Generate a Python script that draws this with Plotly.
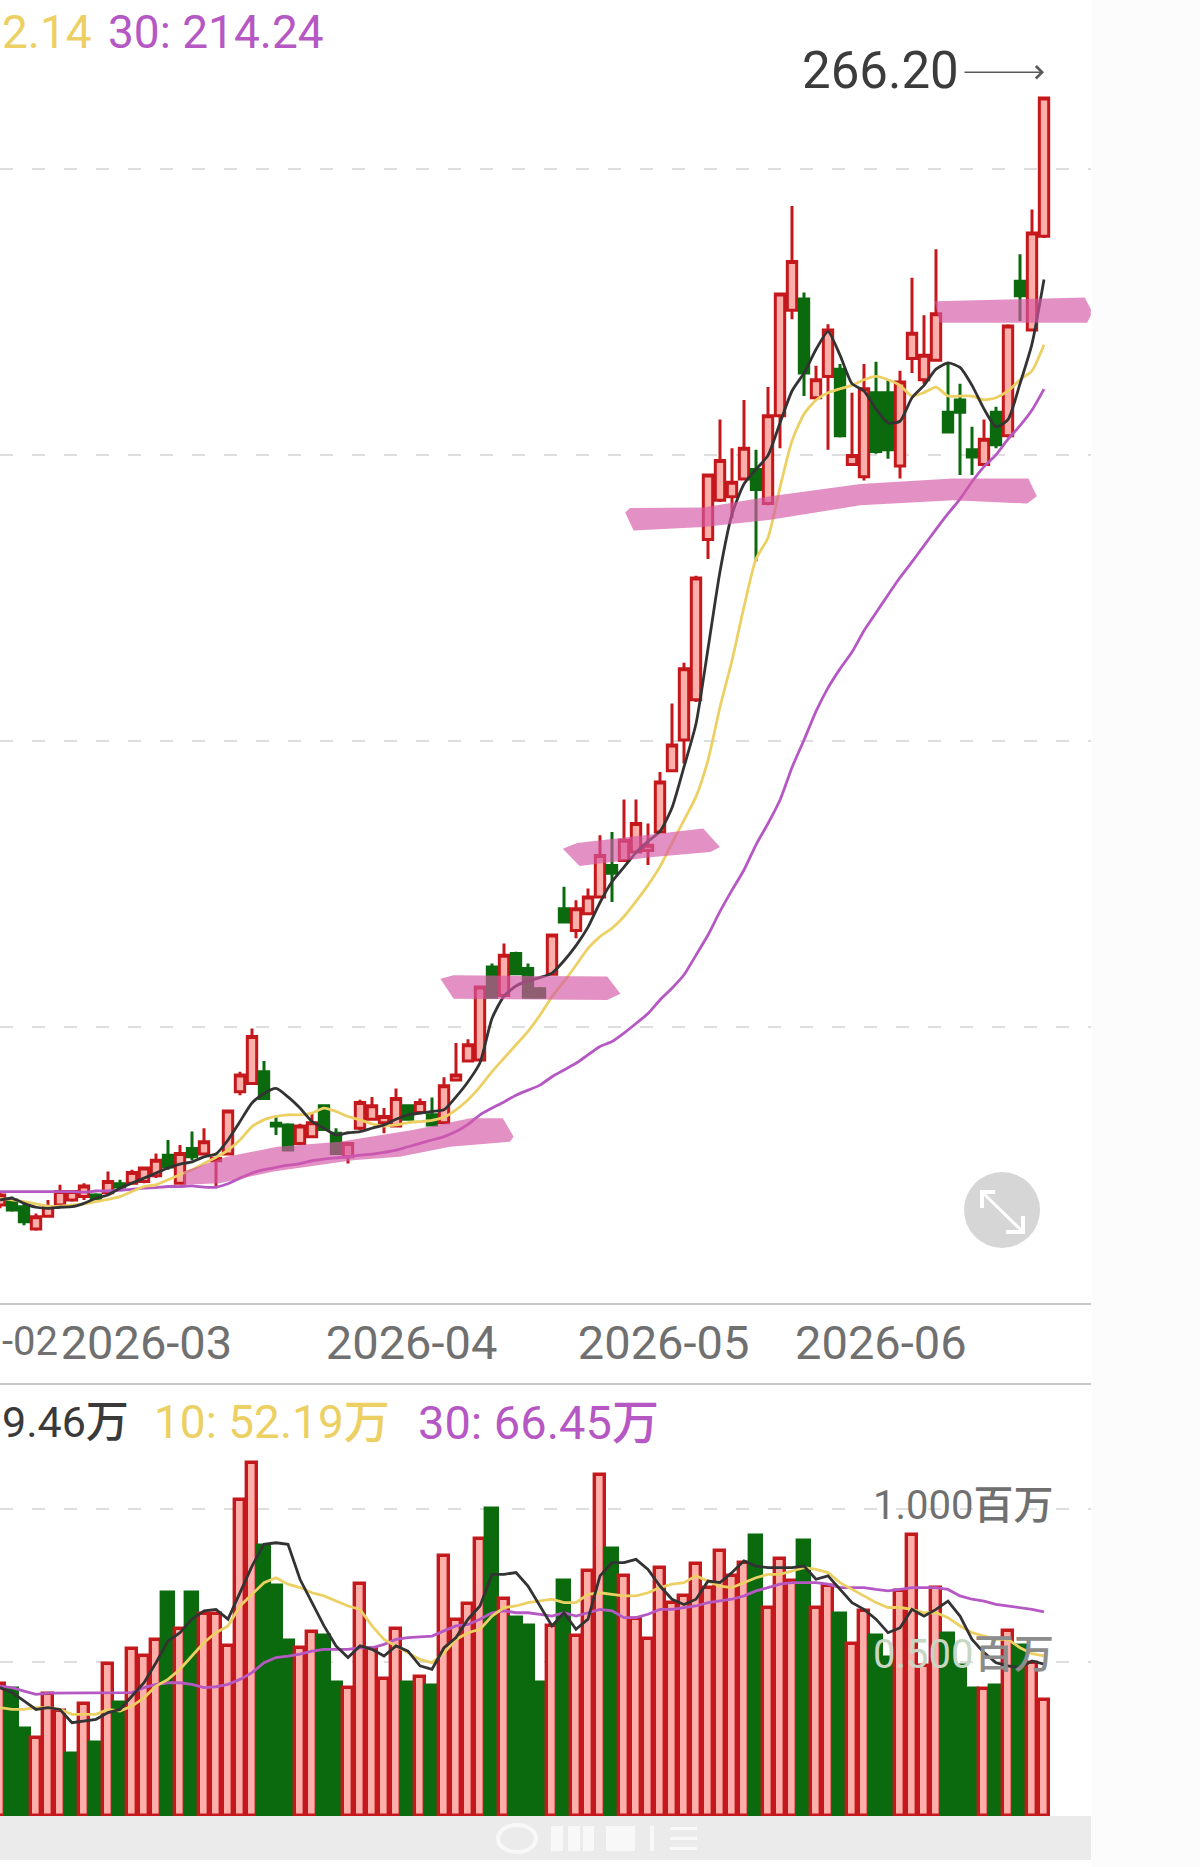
import plotly.graph_objects as go

# Daily candles, in yuan
opens = [68.6,69.5,68.3,64.3,66.6,68.6,69.5,70.1,70.4,70.8,
         72.4,72.5,72.8,73.8,77.5,72.5,78.7,77.7,76.5,77.7,
         88.8,90.3,92.4,83.2,82.9,79.6,80.8,86.3,81.4,77.2,
         82.3,83.9,83.3,82.7,86.3,85.1,84.7,83.3,90.9,94.3,
         94.5,111.1,106.0,113.5,110.8,107.2,109.8,121.5,117.6,120.6,
         123.6,129.2,130.1,131.6,131.9,135.2,146.1,151.6,158.8,187.4,
         194.4,195.0,198.2,199.9,193.8,209.5,228.3,230.3,212.7,216.5,
         217.8,200.8,198.6,213.6,213.6,200.5,219.7,215.9,219.4,210.1,
         212.3,203.4,200.8,210.1,205.9,233.5,224.8,241.5]
highs = [71.0,70.1,68.9,67.1,69.5,72.2,71.3,72.5,70.7,74.6,
         73.1,74.9,75.4,77.8,80.2,79.3,81.7,82.3,77.2,85.6,
         92.4,100.1,94.3,84.4,83.2,83.1,85.0,86.5,82.3,79.9,
         87.4,87.9,85.9,89.4,86.5,87.6,87.8,91.4,97.5,98.2,
         107.8,111.7,115.3,113.8,111.7,107.5,117.0,125.4,123.0,125.1,
         134.6,135.2,141.0,141.0,136.7,145.9,158.1,165.4,180.9,199.1,
         208.8,203.7,212.3,203.4,214.6,231.5,246.9,231.5,218.4,225.8,
         218.7,213.6,218.7,219.1,215.9,217.5,234.1,227.4,239.2,218.7,
         215.2,207.5,208.8,211.1,225.8,238.3,246.3,266.20]
lows = [68.0,67.4,65.0,64.0,66.5,68.3,69.2,69.5,69.5,70.4,
        71.6,72.2,72.5,73.4,74.9,72.2,76.6,77.5,71.6,77.5,
        88.2,90.0,87.5,81.1,78.3,79.3,80.5,82.0,77.6,76.0,
        82.0,83.7,81.4,82.5,83.7,84.8,82.6,83.1,90.7,94.1,
        94.3,105.4,105.7,109.6,105.6,105.6,109.6,119.0,116.2,120.3,
        123.3,122.7,130.0,131.4,129.3,135.0,145.9,147.4,158.4,183.9,
        194.1,191.2,197.9,183.5,193.5,203.7,226.7,213.0,212.3,203.4,
        205.6,200.6,197.9,202.7,201.8,198.3,217.1,215.2,219.1,206.3,
        198.9,198.9,200.5,203.7,205.6,226.4,224.5,241.2]
closes = [70.4,67.7,65.6,66.5,68.3,71.0,71.0,72.0,69.7,72.8,
          71.8,74.4,75.2,76.6,75.4,77.8,77.2,79.9,76.9,85.4,
          91.8,98.7,87.6,82.7,78.4,82.7,83.3,82.1,77.8,79.6,
          86.9,86.3,84.4,87.6,83.9,86.9,82.9,89.9,91.8,97.2,
          107.5,105.7,113.2,109.9,105.7,105.7,116.8,119.1,121.5,123.6,
          131.0,127.8,133.7,136.7,132.8,144.1,150.7,164.3,180.5,198.9,
          201.5,197.6,203.7,196.3,209.5,231.2,237.0,217.1,215.9,224.8,
          205.9,202.4,214.3,203.1,203.4,215.5,224.2,220.3,227.7,206.6,
          210.1,202.1,205.3,204.3,225.5,230.9,242.1,266.20]

# Price moving averages
price_ma5 = [69.5,69.8,68.9,68.2,68.0,68.2,68.3,68.9,69.8,70.4,
             71.6,72.5,73.4,74.3,75.2,75.9,76.3,77.2,77.7,80.2,
             83.5,86.8,88.5,89.4,87.9,85.9,83.5,82.3,81.1,81.5,
             81.7,82.3,82.9,83.9,84.7,85.0,85.3,85.6,87.9,90.6,
             94.0,101.9,105.9,107.7,108.6,109.2,110.0,112.2,114.9,118.2,
             122.6,126.3,128.9,131.5,133.5,135.3,139.5,146.8,154.5,167.9,
             181.7,191.9,197.3,199.9,202.4,208.2,213.9,217.1,221.3,224.5,
             220.3,215.2,213.9,210.7,208.2,208.5,212.7,214.9,217.8,218.9,
             218.1,214.9,210.7,207.5,208.8,215.2,222.3,233.8]
price_ma10 = [69.8,69.5,69.2,68.8,68.4,68.4,68.6,68.8,69.2,69.6,
              70.1,71.0,71.9,72.2,73.1,74.0,74.9,76.0,77.1,78.4,
              80.2,82.6,83.8,84.4,84.7,84.7,85.0,85.9,85.3,84.4,
              83.8,83.1,82.7,82.9,83.3,83.5,83.7,84.3,85.6,87.4,
              89.7,92.4,94.8,97.2,99.6,102.5,105.8,108.5,111.4,114.4,
              116.5,118.0,120.1,122.8,125.7,129.0,133.2,137.3,141.5,148.0,
              157.5,165.8,175.4,183.9,187.7,196.7,205.0,209.8,212.3,213.6,
              214.3,214.9,215.9,216.5,215.9,214.9,213.0,213.6,214.6,213.0,
              213.0,213.0,212.3,212.7,213.9,215.9,217.5,222.14]
price_ma30 = [71.0,71.0,71.0,71.0,71.0,71.0,71.0,70.9,71.1,71.1,
              71.2,71.4,71.6,71.7,71.9,71.9,72.0,71.8,71.8,72.4,
              73.4,74.3,74.9,75.3,75.7,76.0,76.5,76.8,77.0,77.2,
              77.5,77.7,78.0,78.4,79.0,79.6,80.2,80.8,81.7,83.0,
              84.7,85.9,87.0,88.2,89.1,90.0,91.5,92.7,93.9,95.4,
              96.9,97.8,99.3,101.0,102.8,105.2,107.3,109.7,113.2,116.8,
              121.0,124.8,128.4,132.9,136.7,140.9,146.7,151.6,156.7,160.9,
              164.3,167.3,171.1,174.3,177.5,180.6,183.4,186.3,189.2,192.0,
              194.6,197.7,200.4,202.5,205.3,207.7,210.5,214.24]

# Daily volume, in units of 10,000 shares; 'R' up day, 'G' down day
volume = [42.9,41.3,28.2,25.5,39.6,34.2,20.1,36.4,23.9,49.4,
          36.9,54.5,52.1,57.3,72.7,60.8,72.7,65.7,65.7,55.4,
          102.9,114.9,87.9,74.9,57.0,54.8,60.0,58.6,43.4,41.8,
          75.5,54.5,44.5,61.0,43.4,45.4,42.3,84.7,63.8,68.9,
          90.1,100.1,70.6,64.6,61.9,43.4,61.9,76.5,58.6,79.8,
          111.0,86.9,78.2,64.1,57.5,80.9,69.5,71.7,82.2,74.4,
          86.3,78.2,82.5,91.2,67.9,83.6,76.5,89.6,67.9,74.9,
          65.7,55.9,66.8,58.6,51.6,73.3,91.4,48.9,74.1,59.2,
          48.9,41.3,41.5,42.3,60.3,55.4,49.9,37.7]
volume_dir = list("RGGRRRGRGR"
                  "GRRRGRGRRR"
                  "RRGGGRRGGR"
                  "RRRRGRGRRR"
                  "RGRGGGRGRR"
                  "RGRRRRRRRR"
                  "RRRGRRRGRR"
                  "GRRGGRRRRG"
                  "GGRGRGRR")

# Volume moving averages
vol_ma5 = [41.8,40.2,37.5,34.7,35.3,34.7,30.4,30.9,31.5,33.7,
           34.7,39.1,43.4,49.9,57.0,59.7,64.1,66.8,67.3,64.1,
           72.7,81.4,88.5,89.0,88.5,77.1,69.5,61.9,55.4,51.6,
           55.4,54.3,52.1,55.4,53.7,48.9,47.8,54.8,58.1,64.1,
           68.4,78.7,78.7,79.3,74.9,68.4,61.9,66.2,60.8,64.1,
           78.2,82.5,82.5,83.6,80.3,74.9,70.6,68.9,70.6,76.5,
           76.0,79.3,83.1,81.4,80.9,80.9,80.9,81.4,77.1,78.2,
           73.8,69.5,67.3,64.1,59.7,61.3,67.3,65.1,67.3,70.0,
           65.1,57.5,53.2,49.9,48.9,48.3,50.5,49.46]
vol_ma10 = [35.3,34.7,34.7,35.3,35.3,34.7,33.1,33.1,33.1,34.7,
            34.2,35.8,38.5,42.3,44.5,47.8,52.1,56.5,59.7,61.9,
            68.4,72.2,76.0,77.6,75.5,74.4,72.7,71.7,70.0,68.4,
            67.3,61.9,57.5,55.4,53.2,51.0,49.9,53.2,57.5,59.7,
            60.8,65.1,67.9,68.4,69.5,70.0,70.6,69.5,69.5,72.2,
            72.7,72.2,71.7,71.7,72.7,74.4,75.5,76.0,78.2,76.5,
            74.9,74.4,76.0,77.6,78.7,78.7,79.8,80.9,80.3,79.3,
            76.0,73.8,71.7,69.5,67.9,67.9,67.3,66.2,66.2,64.6,
            61.9,59.7,58.6,57.5,57.5,54.8,52.9,52.19]
vol_ma30 = [42.3,41.8,40.7,39.6,40.0,40.0,40.0,40.0,40.0,40.0,
            40.0,40.2,41.8,42.9,43.4,43.4,42.9,41.8,42.1,42.9,
            44.5,46.7,49.9,51.6,52.1,52.7,53.7,54.3,54.3,54.3,
            54.8,54.8,55.9,57.5,58.1,58.4,58.6,60.3,61.9,62.4,
            64.1,66.2,66.8,66.2,66.2,65.7,65.1,66.2,65.1,66.2,
            67.3,66.8,64.6,64.6,65.7,67.3,67.3,67.9,68.4,69.5,
            70.0,70.6,71.7,73.3,74.4,75.5,76.0,76.0,76.0,75.5,
            74.4,74.4,74.4,73.8,73.3,73.8,74.4,74.4,74.4,73.8,
            71.7,70.6,70.0,68.9,68.4,67.9,67.3,66.45]

# Highlighter strokes marking support levels, as session index and price
stroke_a_x = [15.3,18.9,23.1,28.3,34.4,39.2,41.9,42.8,42.5,37.5,33.3,29.4,22.8,18.3,15.3]
stroke_a_y = [74.6,77.2,79.0,79.9,82.0,84.1,84.1,80.8,79.9,79.0,77.2,76.6,74.6,72.5,72.2]
stroke_b_x = [36.7,37.8,50.6,51.7,50.6,37.8]
stroke_b_y = [109.0,109.6,109.4,106.3,105.2,105.4]
stroke_c_x = [46.9,48.1,58.6,60.0,59.2,54.4,48.3]
stroke_c_y = [132.2,133.2,135.8,132.5,131.6,130.7,129.1]
stroke_d_x = [52.1,52.5,58.6,64.2,71.7,79.4,85.7,86.4,85.6,79.4,71.7,64.2,58.6,52.8]
stroke_d_y = [192.2,193.0,193.1,195.1,197.3,198.3,198.3,195.1,193.8,194.4,193.5,190.9,189.6,189.0]
stroke_e_x = [77.9,90.4,90.9,90.9,90.6,78.3]
stroke_e_y = [229.9,230.6,228.5,227.4,226.1,226.1]

# Axis ticks
price_grid = [253.5, 202.5, 151.4, 100.4]
month_positions = [12.2, 34.3, 55.3, 73.4]
month_labels = ["2026-03", "2026-04", "2026-05", "2026-06"]
volume_grid = [50, 100]

sessions = list(range(len(closes)))

RED = "#c4181c"
PINK = "#ffafaa"
GREEN = "#0b6a0e"
INK = "#333333"
YELLOW = "#ecd063"
PURPLE = "#b558c4"
GREY_TEXT = "#707070"
GRID = "#dedede"
RULE = "#c9c9c9"
TEXT_FONT = "Roboto, 'Noto Sans CJK SC', sans-serif"
TEXT_WEIGHT = 450

W, H = 1200, 1867
PANEL_RIGHT = 1091
PRICE_BOTTOM = 1304
VOL_TOP, VOL_BOTTOM = 1384, 1816

fig = go.Figure()

fig.add_trace(go.Candlestick(
    x=sessions, open=opens, high=highs, low=lows, close=closes,
    xaxis="x", yaxis="y", whiskerwidth=0,
    increasing=dict(line=dict(color=RED, width=3), fillcolor=PINK),
    decreasing=dict(line=dict(color=GREEN, width=3), fillcolor=GREEN),
    showlegend=False,
))
for series, colour in ((price_ma30, PURPLE), (price_ma10, YELLOW), (price_ma5, INK)):
    fig.add_trace(go.Scatter(
        x=sessions, y=series, mode="lines", xaxis="x", yaxis="y",
        line=dict(color=colour, width=2.8, shape="spline", smoothing=0.6),
        showlegend=False,
    ))
for sx, sy in ((stroke_a_x, stroke_a_y), (stroke_b_x, stroke_b_y), (stroke_c_x, stroke_c_y),
               (stroke_d_x, stroke_d_y), (stroke_e_x, stroke_e_y)):
    fig.add_trace(go.Scatter(
        x=sx, y=sy, mode="lines", fill="toself", xaxis="x", yaxis="y",
        line=dict(width=0, color="rgba(0,0,0,0)"),
        fillcolor="rgba(212,88,165,0.66)", showlegend=False,
    ))

fig.add_trace(go.Bar(
    x=sessions, y=volume, xaxis="x2", yaxis="y2",
    width=[0.82 if d == "R" else 1.0 for d in volume_dir],
    marker=dict(
        color=[PINK if d == "R" else GREEN for d in volume_dir],
        line=dict(color=[RED if d == "R" else GREEN for d in volume_dir], width=3.4),
    ),
    showlegend=False,
))
for series, colour in ((vol_ma30, PURPLE), (vol_ma10, YELLOW), (vol_ma5, INK)):
    fig.add_trace(go.Scatter(
        x=sessions, y=series, mode="lines", xaxis="x2", yaxis="y2",
        line=dict(color=colour, width=2.8),
        showlegend=False,
    ))


def px(x):
    return x / W


def py(y):
    return 1 - y / H


def text(x, y, label, colour, size, anchor="left"):
    """Place a label by pixel position from the top-left of the page."""
    fig.add_annotation(
        x=px(x), y=py(y), xref="paper", yref="paper", text=label, showarrow=False,
        xanchor=anchor, yanchor="middle",
        font=dict(family=TEXT_FONT, size=size, color=colour, weight=TEXT_WEIGHT),
    )


text(0, 32, "2.14", YELLOW, 46)
text(106, 32, "30: 214.24", PURPLE, 46)
text(800, 71, "266.20", "#3c3c3c", 51)
text(0, 1341, "-02", GREY_TEXT, 40)
text(0, 1422, "9.46万", "#3a3a3a", 43)
text(152, 1422, "10: 52.19万", YELLOW, 46)
text(416, 1422, "30: 66.45万", PURPLE, 47)
text(871, 1505, "1.000百万", GREY_TEXT, 40)
text(871, 1654, "0.500", "#c8d6c4", 40)
text(972, 1654, "百万", "#8c8c8c", 40)

# Callout arrow pointing at the session high
fig.add_annotation(
    x=87, y=270.8, ax=-81, ay=0, xref="x", yref="y", axref="pixel", ayref="pixel",
    text="", showarrow=True, arrowhead=4, arrowsize=1.5, arrowwidth=1.6, arrowcolor="#5a5a5a",
)

rule = dict(type="line", xref="paper", yref="paper", x0=0, x1=px(PANEL_RIGHT),
            line=dict(color=RULE, width=2))


def rect(x0, y0, x1, y1, colour, layer="above"):
    return dict(type="rect", xref="paper", yref="paper", x0=px(x0), x1=px(x1),
                y0=py(y1), y1=py(y0), fillcolor=colour, line=dict(width=0), layer=layer)


def polyline(points, colour, width):
    path = "M " + " L ".join(f"{px(a)} {py(b)}" for a, b in points)
    return dict(type="path", path=path, xref="paper", yref="paper",
                line=dict(color=colour, width=width))


WHITE_MARK = "rgba(255,255,255,0.65)"
shapes = [
    rect(PANEL_RIGHT + 1, 0, W, H, "#fcfcfc", layer="below"),
    dict(rule, y0=py(PRICE_BOTTOM), y1=py(PRICE_BOTTOM)),
    dict(rule, y0=py(VOL_TOP), y1=py(VOL_TOP)),
    rect(0, VOL_BOTTOM, PANEL_RIGHT, 1860, "#ebebeb", layer="below"),
    # Expand button in the price panel
    dict(type="circle", xref="paper", yref="paper", x0=px(964), x1=px(1040),
         y0=py(1248), y1=py(1172), fillcolor="#d6d6d6", line=dict(width=0)),
    polyline([(982, 1192), (1023, 1232)], "white", 3),
    polyline([(995, 1192), (982, 1192), (982, 1208)], "white", 4),
    polyline([(1023, 1216), (1023, 1232), (1006, 1232)], "white", 4),
    # Pale watermark along the bottom strip
    dict(type="circle", xref="paper", yref="paper", x0=px(498), x1=px(536),
         y0=py(1852), y1=py(1825), fillcolor="rgba(0,0,0,0)", line=dict(color=WHITE_MARK, width=4)),
    rect(551, 1826, 563, 1851, WHITE_MARK),
    rect(568, 1826, 580, 1851, WHITE_MARK),
    rect(583, 1826, 594, 1851, WHITE_MARK),
    rect(606, 1826, 635, 1851, WHITE_MARK),
    rect(650, 1826, 654, 1851, WHITE_MARK),
    rect(670, 1827, 697, 1830, WHITE_MARK),
    rect(670, 1837, 697, 1840, WHITE_MARK),
    rect(670, 1847, 697, 1850, WHITE_MARK),
]
fig.update_layout(
    width=W, height=H, margin=dict(l=0, r=0, t=0, b=0), autosize=False,
    paper_bgcolor="white", plot_bgcolor="rgba(0,0,0,0)", showlegend=False, bargap=0,
    boxgap=0.22, boxgroupgap=0,
    shapes=shapes,
    xaxis=dict(domain=[0, px(PANEL_RIGHT)], range=[0, PANEL_RIGHT / 12], anchor="y",
               tickvals=month_positions, ticktext=month_labels, ticks="", ticklabelstandoff=7,
               tickfont=dict(family=TEXT_FONT, size=47, color=GREY_TEXT, weight=TEXT_WEIGHT), showgrid=False,
               zeroline=False, showline=False, rangeslider=dict(visible=False)),
    yaxis=dict(domain=[py(PRICE_BOTTOM), 1], range=[50.93, 283.69], anchor="x",
               tickvals=price_grid, showticklabels=False, ticks="", showline=False, zeroline=False,
               showgrid=True, gridcolor=GRID, griddash="13px,19px", gridwidth=2),
    xaxis2=dict(domain=[0, px(PANEL_RIGHT)], range=[0, PANEL_RIGHT / 12], anchor="y2",
                showticklabels=False, ticks="", showgrid=False, zeroline=False, showline=False),
    yaxis2=dict(domain=[py(VOL_BOTTOM), py(VOL_TOP)], range=[0, 140.7], anchor="x2",
                tickvals=volume_grid, showticklabels=False, ticks="", showline=False, zeroline=False,
                showgrid=True, gridcolor=GRID, griddash="13px,19px", gridwidth=2),
)

fig.write_html("out.html")
